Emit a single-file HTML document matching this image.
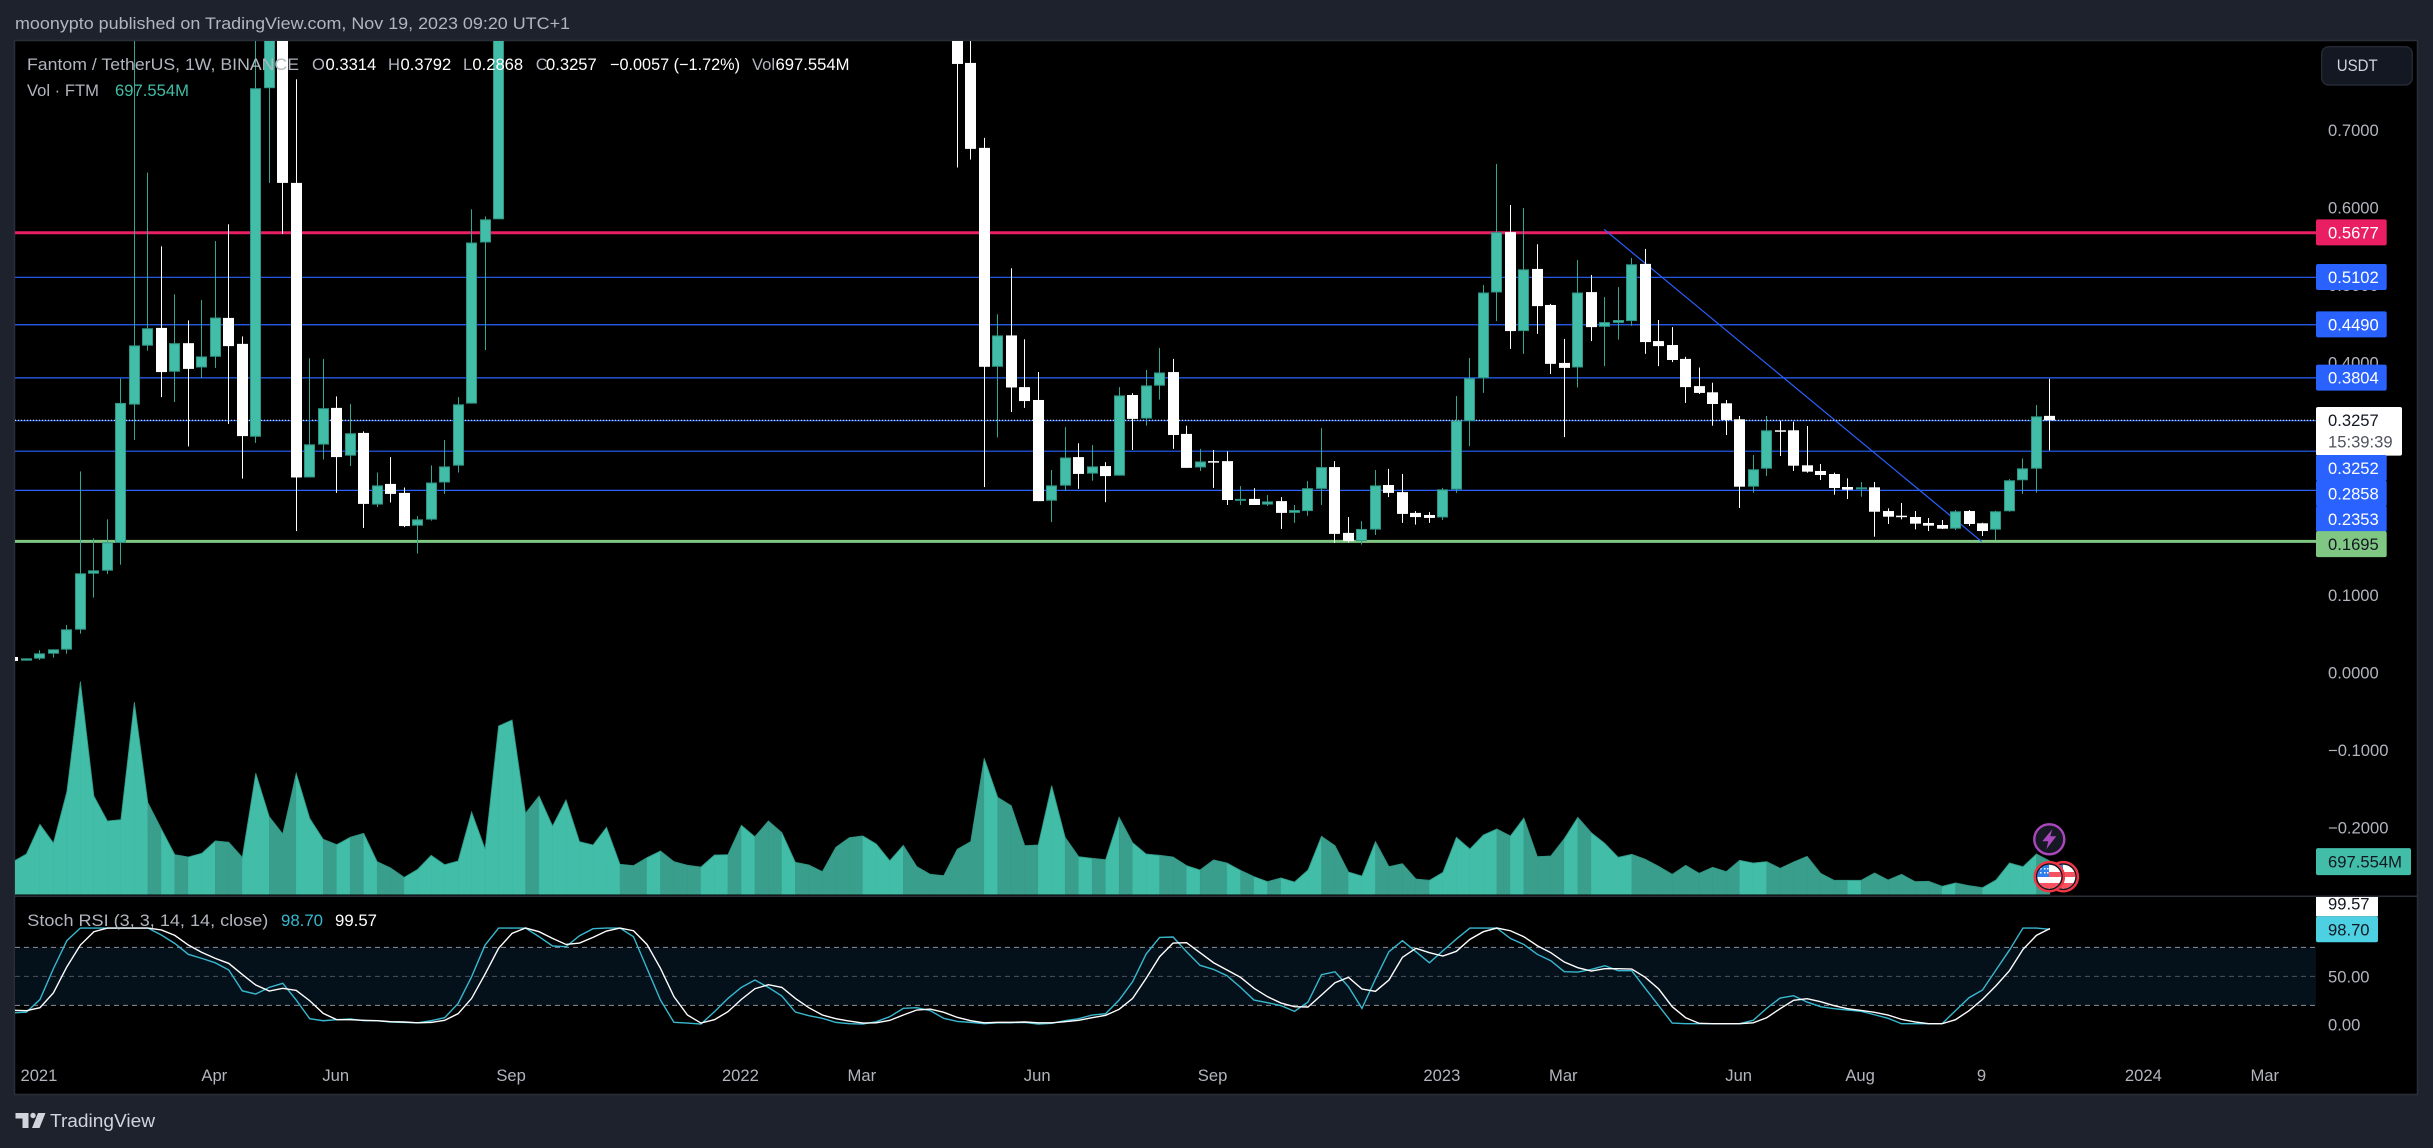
<!DOCTYPE html>
<html lang="en">
<head>
<meta charset="utf-8">
<title>Fantom / TetherUS 1W chart</title>
<style>
html,body{margin:0;padding:0;background:#1e222d;width:2433px;height:1148px;overflow:hidden}
svg{display:block;font-family:"Liberation Sans",sans-serif}
text{font-size:16.6px}
</style>
</head>
<body>
<svg id="chart" xmlns="http://www.w3.org/2000/svg" width="2433" height="1148" viewBox="0 0 2433 1148">
  <defs>
    <clipPath id="mainClip"><rect x="15" y="41" width="2301" height="853.5"/></clipPath>
    <clipPath id="volClip"><rect x="15" y="600" width="2301" height="294.5"/></clipPath>
    <clipPath id="stochClip"><rect x="15" y="897" width="2301" height="150"/></clipPath>
    <clipPath id="axisStochClip"><rect x="2316" y="897" width="101" height="150"/></clipPath>
    <clipPath id="flagA"><circle cx="2049.3" cy="876.7" r="12"/></clipPath>
    <clipPath id="flagB"><circle cx="2063.3" cy="876.7" r="12"/></clipPath>
  </defs>

  <rect x="0" y="0" width="2433" height="1148" fill="#1e222d"/>
  <rect x="14.5" y="40.5" width="2403" height="1054" fill="#000" stroke="#2a2e39" stroke-width="1.5"/>

  <text x="15" y="29" fill="#b2b5be" font-size="17" style="font-size:17px" textLength="555" lengthAdjust="spacingAndGlyphs">moonypto published on TradingView.com, Nov 19, 2023 09:20 UTC+1</text>

  <rect x="15" y="947.3" width="2301" height="58" fill="#04101a"/>

  <g id="gridLayer"></g>
  <g id="volumeLayer" clip-path="url(#volClip)"></g>
  <g id="levelLayer" clip-path="url(#mainClip)"></g>
  <g id="candleLayer" clip-path="url(#mainClip)"></g>
  <g id="stochLayer" clip-path="url(#stochClip)"></g>
  <g id="axisLayer"></g>
  <g id="tagLayer"></g>

  <line x1="15" y1="896.3" x2="2417" y2="896.3" stroke="#2a2e39" stroke-width="1.5"/>

  <!-- Legend -->
  <text x="27" y="70" fill="#b2b5be" textLength="272" lengthAdjust="spacingAndGlyphs">Fantom / TetherUS, 1W, BINANCE</text>
  <text x="312" y="70" fill="#b2b5be">O</text>
  <text x="325.5" y="70" fill="#fff">0.3314</text>
  <text x="388" y="70" fill="#b2b5be">H</text>
  <text x="400.5" y="70" fill="#fff">0.3792</text>
  <text x="463" y="70" fill="#b2b5be">L</text>
  <text x="472.4" y="70" fill="#fff">0.2868</text>
  <text x="535.7" y="70" fill="#b2b5be">C</text>
  <text x="546" y="70" fill="#fff">0.3257</text>
  <text x="610" y="70" fill="#fff" textLength="130" lengthAdjust="spacingAndGlyphs">−0.0057 (−1.72%)</text>
  <text x="752" y="70" fill="#b2b5be">Vol</text>
  <text x="775.5" y="70" fill="#fff" textLength="74" lengthAdjust="spacingAndGlyphs">697.554M</text>
  <text x="27" y="96" fill="#b2b5be">Vol · FTM</text>
  <text x="115" y="96" fill="#42bda8" textLength="74" lengthAdjust="spacingAndGlyphs">697.554M</text>

  <text x="27.3" y="926" fill="#b2b5be" textLength="241" lengthAdjust="spacingAndGlyphs">Stoch RSI (3, 3, 14, 14, close)</text>
  <text x="281" y="926" fill="#37b8cf" textLength="42" lengthAdjust="spacingAndGlyphs">98.70</text>
  <text x="335" y="926" fill="#fff" textLength="42" lengthAdjust="spacingAndGlyphs">99.57</text>

  <!-- Currency button -->
  <g>
    <rect x="2321.7" y="46.7" width="90.6" height="38.3" rx="7" fill="#141823" stroke="#2a2e39" stroke-width="1.2"/>
    <text x="2336.7" y="71" fill="#d1d4dc" textLength="41" lengthAdjust="spacingAndGlyphs">USDT</text>
  </g>

  <!-- Event icons -->
  <g>
    <circle cx="2049.3" cy="839.3" r="15" fill="#161824" stroke="#ab47bc" stroke-width="2.4"/>
    <polygon points="2052.3,829.3 2042.3,841.3 2048.3,841.3 2046.3,849.3 2056.3,836.3 2050.3,836.3" fill="#ab47bc"/>
  </g>
  <g>
    <circle cx="2063.3" cy="876.7" r="14.6" fill="#131722" stroke="#f23645" stroke-width="2.4"/>
    <g clip-path="url(#flagB)">
      <rect x="2050" y="864" width="26" height="26" fill="#fff"/>
      <rect x="2050" y="872" width="26" height="5" fill="#f7525f"/>
      <rect x="2050" y="883" width="26" height="7" fill="#f7525f"/>
      <rect x="2050" y="864" width="13" height="13" fill="#2f80ed"/>
    </g>
  </g>
  <g>
    <circle cx="2049.3" cy="876.7" r="14.6" fill="#131722" stroke="#f23645" stroke-width="2.4"/>
    <g clip-path="url(#flagA)">
      <rect x="2036" y="864" width="26" height="26" fill="#fff"/>
      <rect x="2036" y="872" width="26" height="5" fill="#f7525f"/>
      <rect x="2036" y="883" width="26" height="7" fill="#f7525f"/>
      <rect x="2036" y="864" width="13" height="13" fill="#2f80ed"/>
      <path d="M2040 868h1.5v1.5H2040zM2044 868h1.5v1.5H2044zM2047 868h1.5v1.5H2047zM2040 872h1.5v1.5H2040zM2044 872h1.5v1.5H2044zM2047 872h1.5v1.5H2047z" fill="#fff"/>
    </g>
  </g>

  <!-- Logo -->
  <g>
    <path d="M15.5 1113h13v15h-6v-9.5h-7zM38 1113h7.5l-6 15h-7.5z" fill="#d1d4dc"/>
    <circle cx="33" cy="1115.5" r="2.7" fill="#d1d4dc"/>
    <text x="50" y="1127" fill="#d1d4dc" style="font-size:18px" textLength="105" lengthAdjust="spacingAndGlyphs">TradingView</text>
  </g>
</svg>

<script>
// ---- Price data (weekly bars) ----
const opens = [.0203,.0155,.0181,.0245,.0297,.0555,.1277,.1316,.1675,.3459,
.4219,.4449,.3883,.4252,.3938,.4076,.4578,.4243,.3044,.7542,
1.05,.6320,.2519,.2943,.3417,.2800,.3094,.2169,.2436,.2320,
.1897,.1975,.2454,.2671,.3472,.5551,.5850,.95,1.2,1.5,
1.3,1.55,1.75,2.0,2.3,2.6,2.9,2.5,2.3,2.6,
2.3,2.1,1.9,2.1,2.3,2.0,2.2,1.9,1.6,1.8,
1.6,1.4,1.3,1.2,1.1,1.3,1.5,1.8,1.6,1.4,
1.1,.7868,.6772,.3947,.4352,.3685,.3519,.2219,.2413,.2782,
.2569,.2666,.2542,.3583,.3279,.3703,.3879,.3081,.2648,.2730,
.2730,.2228,.2243,.2169,.2214,.2062,.2085,.2372,.2653,.1804,
.1698,.1846,.2422,.2330,.2062,.2035,.2003,.2363,.3246,.3800,
.4906,.5685,.4408,.5210,.4745,.3997,.3938,.4911,.4463,.4514,
.4537,.5275,.4279,.4228,.4049,.3698,.3618,.3476,.3270,.2400,
.2632,.3128,.3128,.2676,.2603,.2564,.2396,.2366,.2392,.2086,
.2026,.2009,.1932,.1906,.1858,.2086,.1928,.1845,.2083,.2483,
.2632,.3314];
const closes = [.0151,.0186,.0250,.0302,.0560,.1283,.1321,.1683,.3481,.4223,
.4445,.3879,.4252,.3920,.4081,.4583,.4214,.3053,.7542,1.05,
.6320,.2519,.2947,.3413,.2782,.3090,.2178,.2417,.2307,.1892,
.1979,.2454,.2662,.3463,.5551,.5850,.95,1.2,1.5,1.3,
1.55,1.75,2.0,2.3,2.6,2.9,2.5,2.3,2.6,2.3,
2.1,1.9,2.1,2.3,2.0,2.2,1.9,1.6,1.8,1.6,
1.4,1.3,1.2,1.1,1.3,1.5,1.8,1.6,1.4,1.1,
.7855,.6759,.3947,.4352,.3680,.3505,.2214,.2417,.2777,.2565,
.2662,.2537,.3578,.3275,.3707,.3874,.3067,.2643,.2726,.2717,
.2228,.2243,.2164,.2210,.2062,.2099,.2381,.2653,.1791,.1698,
.1855,.2417,.2320,.2049,.2008,.1997,.2366,.3255,.3800,.4906,
.5685,.4408,.5205,.4730,.3985,.3933,.4906,.4459,.4524,.4551,
.5270,.4266,.4214,.4035,.3685,.3610,.3467,.3261,.2400,.2625,
.3128,.3119,.2671,.2594,.2551,.2383,.2361,.2392,.2077,.2013,
.2013,.1923,.1897,.1858,.2083,.1919,.1828,.2083,.2483,.2637,
.3308,.3257];
const highs = [.0203,.0186,.0289,.0302,.0615,.2597,.1734,.1979,.3795,.85,
.6454,.5501,.4883,.4546,.4809,.5569,.5786,.4339,.95,1.2,
1.1,.7657,.4058,.4049,.3565,.3468,.3114,.2583,.2782,.2390,
.2021,.2675,.3003,.3556,.5979,.5888,1.0,1.3,1.6,1.6,
1.7,1.9,2.2,2.5,2.8,3.1,3.0,2.6,2.7,2.7,
2.4,2.2,2.2,2.4,2.4,2.3,2.3,2.0,1.9,1.9,
1.7,1.5,1.4,1.3,1.4,1.6,1.9,1.9,1.7,1.5,
1.15,.85,.6901,.4625,.5219,.4302,.3879,.2615,.3169,.2961,
.2938,.2717,.3685,.3606,.3906,.4191,.4049,.3187,.2888,.2874,
.2855,.2408,.2381,.2293,.2266,.2164,.2472,.3155,.2730,.2008,
.1956,.2615,.2630,.2565,.2085,.2072,.2385,.3569,.4062,.5003,
.6565,.6035,.5997,.5528,.4759,.4307,.5325,.5132,.4846,.4975,
.5352,.5468,.4551,.4459,.4076,.3938,.3742,.3519,.3312,.2809,
.3312,.3252,.3239,.3183,.2693,.2581,.2508,.2461,.2461,.2121,
.2190,.2086,.1996,.1970,.2099,.2099,.1935,.2090,.2499,.2766,
.3454,.3792];
const lows = [.0151,.0155,.0164,.0194,.0245,.0503,.0968,.1274,.1394,.3003,
.4155,.3556,.3492,.2920,.3804,.3933,.3210,.2505,.2965,.6320,
.5662,.1827,.2519,.2750,.2320,.2666,.1868,.2137,.2196,.1879,
.1537,.1961,.2307,.2583,.3472,.4164,.5850,.90,1.1,1.2,
1.2,1.4,1.6,1.9,2.2,2.5,2.3,2.1,2.2,2.1,
2.0,1.8,1.8,2.0,1.9,1.9,1.8,1.5,1.5,1.5,
1.3,1.2,1.1,1.0,1.0,1.2,1.4,1.5,1.3,1.0,
.6519,.6621,.2395,.3035,.3363,.3417,.2214,.1943,.2348,.2372,
.2477,.2201,.2542,.2874,.3187,.3524,.2888,.2643,.2603,.2385,
.2164,.2164,.2164,.2151,.1855,.1933,.2026,.2164,.1675,.1680,
.1653,.1777,.2266,.1933,.1911,.1933,.1970,.2320,.2924,.3610,
.4537,.4178,.4114,.4372,.3855,.3040,.3680,.4279,.3956,.4298,
.4477,.4114,.3956,.4008,.3481,.3596,.3187,.3067,.2125,.2323,
.2538,.2796,.2603,.2581,.2486,.2297,.2241,.2271,.1755,.1919,
.1979,.1850,.1828,.1854,.1841,.1893,.1764,.1712,.2077,.2306,
.2323,.2868];

// Volume in millions of FTM
const volumes = [686,847,1470,1078,2156,4466,2065,1540,1568,4032,
1925,1372,833,784,861,1120,1092,777,2541,1631,
1267,2541,1596,1155,1043,1197,1281,686,553,357,
525,819,623,700,1729,952,3535,3661,1701,2065,
1435,1981,1106,1036,1407,630,602,770,910,686,
609,574,826,833,1449,1211,1540,1295,672,616,
476,987,1190,1225,1057,707,1029,581,420,392,
945,1106,2856,2037,1862,1022,1036,2282,1197,791,
756,728,1617,1085,847,819,784,602,511,721,
658,504,371,266,343,259,511,1218,1022,469,
385,1106,581,644,322,294,462,1197,952,1246,
1372,1225,1603,791,805,1169,1617,1295,1071,777,
840,735,588,420,609,441,567,476,714,658,
686,546,679,798,441,294,294,294,448,301,
420,266,273,168,238,182,140,301,658,581,
847,697.554];

// Stochastic RSI
const stochK = [12.4,13,26,58,87,100,100,100,100,100,
100,92.8,84,72.8,68.6,64,56.6,35,31.7,38.6,
42.8,25.5,6.2,4.1,5.2,5.9,4.1,4.1,2.8,2.4,
2,4.1,7.2,22,49.7,82.4,100,100,100,91,
81.4,80.7,92,99.3,100,100,91,58.3,25.5,2.4,
1.7,.7,13.4,27.2,38.6,46.2,38.6,29.7,13.1,9.3,
6.6,2.4,1,.7,3.1,8.3,16.9,17.6,14.5,6.6,
3.4,2.4,1,2,2,2.4,.7,1.4,4.1,6.2,
10,11.4,25.5,44.5,73.1,90.3,90.7,75.5,61.4,57.2,
50.7,38.6,25.5,22.8,19.7,13.8,23.4,51.7,54.8,39.3,
16.9,47.2,75.5,86.9,75.5,64,76.5,88.6,100,100,
100,89.3,83,72.8,66.2,54.8,54.5,57.2,61,55.9,
55.9,37.6,19.7,1.7,1,1,1,1,1,4.5,
16.9,27.6,30,23.4,18.6,16.6,15.2,13.8,10.3,6.6,
1,1,1,1,14.5,27.9,35.9,56.6,77.2,100,
100,98.7];
const stochD = [15,14.5,17.6,33,60,82.4,96.2,100,100,100,
100,98,92.4,82.4,74.8,68.6,63.4,52,41,34.8,
37.6,35.5,24.8,11.7,5.2,5.2,4.5,4.1,3.1,2.8,
2,2.4,4.5,11.4,27.2,52.4,79,94.5,100,96.2,
89.3,83,84.5,90.3,96.9,100,97.2,83,58.3,29,
10,1.7,5.2,13.4,26.2,37.2,41.4,38.6,27.2,17.6,
10,6.2,3.8,1.7,2,4.5,10,15.2,16.2,12.8,
7.6,4.1,2,2.4,2.4,2.8,2,2,3.1,4.5,
7.2,9.7,15.9,27.2,47.9,70.3,84.5,84.8,74.5,64.1,
56.6,49,37.6,29,22.4,18.6,18.3,30.7,43.4,49,
36.9,34.5,46.2,69.7,79,74.5,71,75.9,88.3,96.2,
100,97.2,91,81.7,74.5,64.8,59,55.5,57.9,57.9,
57.6,49,36.9,18.6,7.2,1.4,1,1,1,2,
7.2,16.6,25.2,26.9,23.8,19.7,16.6,14.8,12.8,10,
5.5,2.8,1,1,5.2,14.5,26.2,40.3,55.9,77.9,
92.4,99.57];

// Levels and annotations
const redLevels = [0.5677];
const blueLevels = [0.5102, 0.4490, 0.3804, 0.3252, 0.2858, 0.2353];
const greenLevels = [0.1695];
const lastPrice = [0.3257];
const countdown = ['15:39:39'];
const trendBars = [117.95, 145.95];
const trendPrices = [0.5721, 0.1690];

// Axis ticks
const priceTicks = [0.7, 0.6, 0.5, 0.4, 0.3, 0.2, 0.1, 0, -0.1, -0.2];
const stochTicks = [50, 0];
const stochGuides = [80, 50, 20];
const timeLabels = ['2021','Apr','Jun','Sep','2022','Mar','Jun','Sep','2023','Mar','Jun','Aug','9','2024','Mar'];
const timeBars = [2,15,24,37,54,63,76,89,106,115,128,137,146,158,167];

// ---- Scales ----
function xBar(i) { return 12.95 + 13.49 * i; }
function yPrice(p) { return 672.7 - 775 * p; }
function yVol(v) { return 894.3 - v / 21; }
function yStoch(s) { return 1024.7 - 0.9667 * s; }

const NS = 'http://www.w3.org/2000/svg';
function mk(tag, attrs, parent) {
  const node = document.createElementNS(NS, tag);
  for (const key in attrs) node.setAttribute(key, attrs[key]);
  parent.appendChild(node);
  return node;
}
const volumeLayer = document.getElementById('volumeLayer');
const levelLayer = document.getElementById('levelLayer');
const candleLayer = document.getElementById('candleLayer');
const stochLayer = document.getElementById('stochLayer');
const axisLayer = document.getElementById('axisLayer');
const tagLayer = document.getElementById('tagLayer');
const gridLayer = document.getElementById('gridLayer');

const TEAL = '#42bda8';
const TEAL_DARK = '#3a9e8c';
const EDGE = '#2f9483';

// ---- Stoch guides ----
stochGuides.forEach(function (g) {
  const guide = mk('line', {x1: 15, x2: 2316, y1: yStoch(g), y2: yStoch(g), stroke: g === 50 ? '#4e525c' : '#8b8e97', 'stroke-width': 1, 'stroke-dasharray': '5 4'}, gridLayer);
  
  
});

// ---- Volume area ----
for (let i = 1; i < volumes.length; i++) {
  const up = closes[i] >= opens[i];
  const color = up ? TEAL : TEAL_DARK;
  const pts = [xBar(i - 1), yVol(volumes[i - 1]), xBar(i), yVol(volumes[i]), xBar(i), 894.5, xBar(i - 1), 894.5].join(' ');
  const seg = mk('polygon', {points: pts, fill: color, stroke: color, 'stroke-width': 0.4}, volumeLayer);
  
  
}
const volTop = mk('polyline', {points: volumes.map(function (v, i) { return xBar(i) + ',' + yVol(v); }).join(' '), fill: 'none', stroke: EDGE, 'stroke-width': 0.8}, volumeLayer);



// ---- Horizontal levels ----
blueLevels.forEach(function (p) {
  const line = mk('line', {x1: 15, x2: 2316, y1: yPrice(p), y2: yPrice(p), stroke: '#2962ff', 'stroke-width': 1.2}, levelLayer);
  
  
});
redLevels.forEach(function (p) {
  const line = mk('line', {x1: 15, x2: 2316, y1: yPrice(p), y2: yPrice(p), stroke: '#e91e63', 'stroke-width': 3}, levelLayer);
  
  
});
greenLevels.forEach(function (p) {
  const line = mk('line', {x1: 15, x2: 2316, y1: yPrice(p), y2: yPrice(p), stroke: '#81c784', 'stroke-width': 3}, levelLayer);
  
  
});
const trend = mk('line', {x1: xBar(trendBars[0]), y1: yPrice(trendPrices[0]), x2: xBar(trendBars[1]), y2: yPrice(trendPrices[1]), stroke: '#2962ff', 'stroke-width': 1.2}, levelLayer);



// ---- Candles ----
for (let i = 0; i < opens.length; i++) {
  const up = closes[i] >= opens[i];
  const cx = Math.round(xBar(i) - 0.5);
  const top = yPrice(Math.max(opens[i], closes[i]));
  const bottom = yPrice(Math.min(opens[i], closes[i]));
  const wick = mk('rect', {x: cx, y: yPrice(highs[i]), width: 1, height: Math.max(1, yPrice(lows[i]) - yPrice(highs[i])), fill: up ? '#35a593' : '#ffffff'}, candleLayer);
  
  
  const body = up
    ? mk('rect', {x: cx - 4.5, y: top + 0.5, width: 10, height: Math.max(1, bottom - top - 1), fill: TEAL, stroke: EDGE, 'stroke-width': 1}, candleLayer)
    : mk('rect', {x: cx - 5, y: top, width: 11, height: Math.max(1.5, bottom - top), fill: '#ffffff'}, candleLayer);
  
  
}

// ---- Last price dotted line (above candles) ----
lastPrice.forEach(function (p) {
  const line = mk('line', {x1: 15, x2: 2316, y1: yPrice(p), y2: yPrice(p), stroke: '#ffffff', 'stroke-width': 1, 'stroke-dasharray': '1 2'}, levelLayer);
  
  
});

// ---- Stoch lines ----
function linePoints(values) {
  return values.map(function (s, i) { return xBar(i) + ',' + yStoch(s); }).join(' ');
}
const kLine = mk('polyline', {points: linePoints(stochK), fill: 'none', stroke: '#37b8cf', 'stroke-width': 1.4}, stochLayer);


const dLine = mk('polyline', {points: linePoints(stochD), fill: 'none', stroke: '#ffffff', 'stroke-width': 1.4}, stochLayer);



// ---- Axis labels ----
function priceText(p) {
  const s = Math.abs(p).toFixed(4);
  return (p < 0 ? '\u2212' : '') + s;
}
priceTicks.forEach(function (p) {
  const t = mk('text', {x: 2328, y: yPrice(p) + 6, fill: '#b2b5be'}, axisLayer);
  t.textContent = priceText(p);
  
  
});
stochTicks.forEach(function (s) {
  const t = mk('text', {x: 2328, y: yStoch(s) + 6, fill: '#b2b5be'}, axisLayer);
  t.textContent = s.toFixed(2);
  
  
});
timeLabels.forEach(function (label, idx) {
  const t = mk('text', {x: xBar(timeBars[idx]) - 1, y: 1081, fill: '#b2b5be', 'text-anchor': 'middle'}, axisLayer);
  t.textContent = label;
  
  
});

// ---- Price tags, stacked so they never overlap ----
const tagEntries = [];
redLevels.forEach(function (p) { tagEntries.push({price: p, kind: 'red'}); });
blueLevels.forEach(function (p) { tagEntries.push({price: p, kind: 'blue'}); });
greenLevels.forEach(function (p) { tagEntries.push({price: p, kind: 'green'}); });
lastPrice.forEach(function (p) { tagEntries.push({price: p, kind: 'last'}); });
tagEntries.sort(function (a, b) { return b.price - a.price; });
let cursor = -Infinity;
tagEntries.forEach(function (entry) {
  const isLast = entry.kind === 'last';
  const h = isLast ? 48 : 25.4;
  const topY = Math.max(yPrice(entry.price) - 13.3, cursor);
  cursor = topY + h;
  const fill = {red: '#e91e63', blue: '#2962ff', green: '#81c784', last: '#ffffff'}[entry.kind];
  const box = mk('rect', {x: 2316, y: topY, width: isLast ? 86 : 70.7, height: h + 0.6, rx: 2, fill: fill}, tagLayer);
  
  
  const t = mk('text', {x: 2328, y: topY + 19, fill: (entry.kind === 'green' || isLast) ? '#131722' : '#ffffff'}, tagLayer);
  t.textContent = entry.price.toFixed(4);
  
  
  if (isLast) {
    const c = mk('text', {x: 2328, y: topY + 40.5, fill: '#50535e'}, tagLayer);
    c.textContent = countdown[0];
    
    
  }
});

// Volume tag
const lastVolume = volumes[volumes.length - 1];
const volBox = mk('rect', {x: 2316, y: yVol(lastVolume) - 13, width: 95, height: 27, rx: 2, fill: TEAL}, tagLayer);


const volTxt = mk('text', {x: 2328, y: yVol(lastVolume) + 6.5, fill: '#131722', textLength: 74, lengthAdjust: 'spacingAndGlyphs'}, tagLayer);
volTxt.textContent = lastVolume.toFixed(3) + 'M';



// Stoch tags
const stochTagGroup = mk('g', {'clip-path': 'url(#axisStochClip)'}, tagLayer);


const lastK = stochK[stochK.length - 1];
const lastD = stochD[stochD.length - 1];
const kTop = yStoch(lastK) - 13;
const dBox = mk('rect', {x: 2316, y: kTop - 26, width: 62, height: 26, fill: '#ffffff'}, stochTagGroup);


const dTxt = mk('text', {x: 2328, y: kTop - 7, fill: '#131722'}, stochTagGroup);
dTxt.textContent = lastD.toFixed(2);


const kBox = mk('rect', {x: 2316, y: kTop, width: 62, height: 26, rx: 2, fill: '#4dd0e1'}, stochTagGroup);


const kTxt = mk('text', {x: 2328, y: kTop + 19, fill: '#131722'}, stochTagGroup);
kTxt.textContent = lastK.toFixed(2);


</script>
</body>
</html>
